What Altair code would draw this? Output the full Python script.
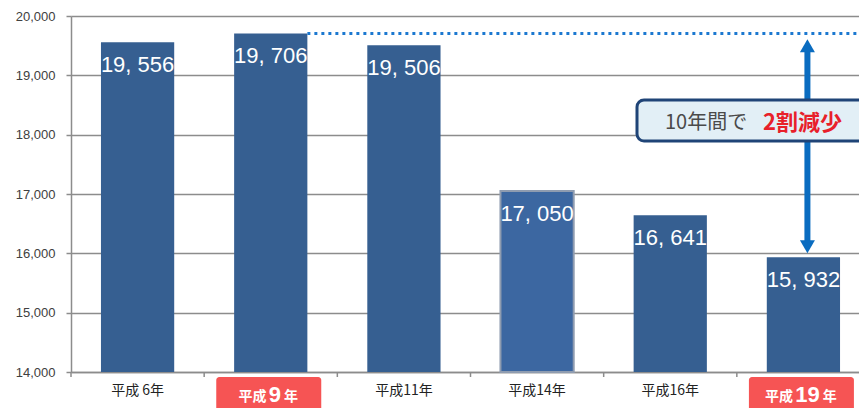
import altair as alt
import pandas as pd

# ---------------- data ----------------
categories = ["平成 6年", "平成9年", "平成11年", "平成14年", "平成16年", "平成19年"]
values = [19556, 19706, 19506, 17050, 16641, 15932]
bar_labels = ["19, 556", "19, 706", "19, 506", "17, 050", "16, 641", "15, 932"]
bar_styles = ["normal", "normal", "normal", "soft", "normal", "normal"]
highlight_years = ["平成9年", "平成19年"]
highlight_prefix = ["平成", "平成"]
highlight_number = ["9", "19"]
highlight_suffix = ["年", "年"]
y_ticks = [14000, 15000, 16000, 17000, 18000, 19000, 20000]
y_min, y_max = 14000, 20000
reference_value = 19706
arrow_top = 19610
arrow_bottom = 16000
callout_plain = "10年間で"
callout_red = "2割減少"

# ---------------- layout ----------------
W, H = 799, 356
LEFT = 63
step = W / len(categories)
bar_w = step * 0.55


def ypx(v):
    return (y_max - v) / (y_max - y_min) * H


GRAY = "#8c8c8c"
BAR = "#365f91"
BLUE = "#0a6cc0"
CJK = "Noto Sans CJK JP"
LAT = "Liberation Sans"

df = pd.DataFrame({"cat": categories, "value": values, "label": bar_labels, "style": bar_styles,
                   "plain": [("" if c in highlight_years else c) for c in categories]})
hl_df = pd.DataFrame({"cat": highlight_years, "pre": highlight_prefix,
                      "num": highlight_number, "suf": highlight_suffix})
one = pd.DataFrame({"a": [0]})

X_SHARED = alt.X(
    "cat:N", sort=categories,
    scale=alt.Scale(domain=categories, paddingInner=0.45, paddingOuter=0.225),
    axis=alt.Axis(title=None, labels=False, ticks=False, grid=False,
                  domainColor=GRAY, domainWidth=1.5),
)
Y_SHARED = alt.Y(
    "value:Q", stack=None,
    scale=alt.Scale(domain=[y_min, y_max], nice=False, zero=False),
    axis=alt.Axis(title=None, values=y_ticks, labelExpr="format(datum.value, ',')", grid=True,
                  gridColor=GRAY, gridWidth=1.5, domainColor=GRAY, domainWidth=1.5,
                  tickColor=GRAY, tickSize=5, tickWidth=1.5,
                  labelFont=LAT, labelFontSize=13, labelColor="#404040", labelPadding=11),
)

bars = alt.Chart(df).mark_bar().encode(
    x=X_SHARED, y=Y_SHARED, y2=alt.value(H),
    color=alt.Color("style:N", scale=alt.Scale(domain=["normal", "soft"], range=[BAR, "#3c67a1"]),
                    legend=None),
    stroke=alt.condition("datum.style == 'soft'", alt.value("#8f9cb0"), alt.value(BAR)),
    strokeWidth=alt.condition("datum.style == 'soft'", alt.value(2), alt.value(0)),
)

bar_text = alt.Chart(df).mark_text(dy=23, baseline="middle", align="center", color="white",
                                   fontSize=22, font=LAT).encode(
    x=X_SHARED, y=Y_SHARED, text="label:N",
)

x_labels = alt.Chart(df).mark_text(baseline="middle", align="center", color="#222222",
                                   fontSize=14, font=CJK).encode(
    x=X_SHARED, y=alt.value(H + 19), text="plain:N",
)

ticks = alt.Chart(df).mark_rule(color=GRAY, strokeWidth=1.5, xOffset=-step / 2).encode(
    x=X_SHARED, y=alt.value(H), y2=alt.value(H + 5),
)

dotted = alt.Chart(one).mark_rule(color="#1b78d0", strokeWidth=3, strokeDash=[3, 4]).encode(
    x=alt.value(step * 1.5 + bar_w / 2), x2=alt.value(W - 13),
    y=alt.value(ypx(reference_value)),
)

arrow_x = step * 5.5 + 4
head_r = 7.5
top_c = ypx(arrow_top) + head_r
bot_c = ypx(arrow_bottom) - head_r
shaft = alt.Chart(one).mark_rule(color=BLUE, strokeWidth=6).encode(
    x=alt.value(arrow_x), y=alt.value(top_c), y2=alt.value(bot_c),
)
head_up = alt.Chart(one).mark_point(shape="M0,-1L1,0.75L-1,0.75Z", filled=True, opacity=1,
                                    size=(2 * head_r) ** 2, color=BLUE).encode(
    x=alt.value(arrow_x), y=alt.value(top_c),
)
head_down = alt.Chart(one).mark_point(shape="M0,1L1,-0.75L-1,-0.75Z", filled=True, opacity=1,
                                      size=(2 * head_r) ** 2, color=BLUE).encode(
    x=alt.value(arrow_x), y=alt.value(bot_c),
)

box = alt.Chart(one).mark_rect(cornerRadius=7, fill="#e2eff6", stroke="#1f4477",
                               strokeWidth=3).encode(
    x=alt.value(566), x2=alt.value(W + 30), y=alt.value(84), y2=alt.value(125),
)
box_t1 = alt.Chart(one).mark_text(align="left", baseline="middle", fontSize=20, font=CJK,
                                  color="#4a4a4a").encode(
    x=alt.value(594), y=alt.value(107), text=alt.value(callout_plain),
)
box_t2 = alt.Chart(one).mark_text(align="left", baseline="middle", fontSize=22, font=CJK,
                                  fontWeight="bold", color="#e8202a").encode(
    x=alt.value(692), y=alt.value(107), text=alt.value(callout_red),
)

hl_box = alt.Chart(hl_df).mark_bar(width=105, cornerRadius=3, color="#f65454", xOffset=-2).encode(
    x=X_SHARED, y=alt.value(H + 5), y2=alt.value(H + 60),
)
hl_num = alt.Chart(hl_df).mark_text(align="center", baseline="alphabetic", fontSize=22,
                                    font=LAT, fontWeight="bold", color="white", dx=4).encode(
    x=X_SHARED, y=alt.value(H + 30), text="num:N",
)

layers = [bars, ticks, x_labels, bar_text, dotted, shaft, head_up, head_down, box, box_t1, box_t2,
          hl_box, hl_num]

# prefix / suffix of the red labels, placed beside the number
for cat, num in zip(highlight_years, highlight_number):
    half = 6.2 * len(num)
    sub = hl_df[hl_df["cat"] == cat]
    layers.append(alt.Chart(sub).mark_text(align="right", baseline="alphabetic", fontSize=14,
                                           font=CJK, fontWeight="bold", color="white",
                                           dx=4 - half - 2).encode(
        x=X_SHARED, y=alt.value(H + 29), text="pre:N"))
    layers.append(alt.Chart(sub).mark_text(align="left", baseline="alphabetic", fontSize=14,
                                           font=CJK, fontWeight="bold", color="white",
                                           dx=4 + half + 3).encode(
        x=X_SHARED, y=alt.value(H + 29), text="suf:N"))

chart = alt.layer(*layers).properties(
    width=W, height=H,
    autosize=alt.AutoSizeParams(type="none"),
    padding={"left": LEFT, "top": 8, "right": 851 - LEFT - W, "bottom": 44},
    background="white",
).configure_view(stroke=None)

chart.save("out.html", embed_options={"renderer": "svg", "actions": False})
